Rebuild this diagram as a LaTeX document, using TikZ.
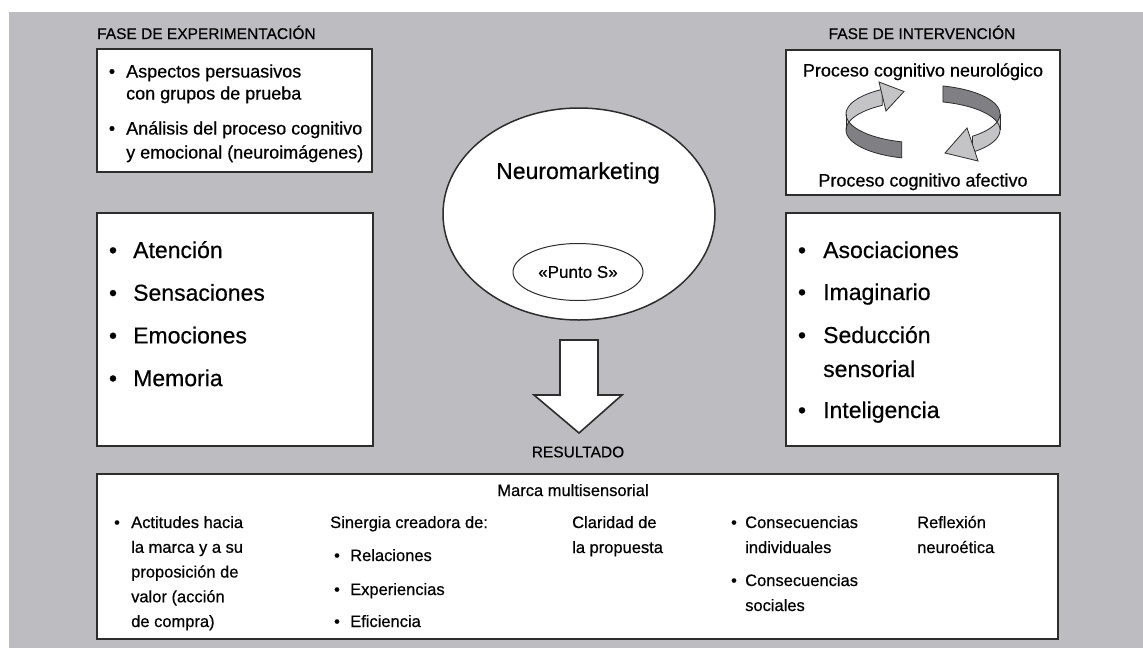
\documentclass[tikz,border=0pt]{standalone}
\usepackage{fontspec}
\setmainfont{Liberation Sans}[FakeBold=0.5]
\usetikzlibrary{shapes.geometric}

\definecolor{panelgray}{RGB}{189,189,193}
\definecolor{boxline}{RGB}{45,45,45}
\definecolor{ribbondark}{RGB}{128,128,132}
\definecolor{ribbonlight}{RGB}{196,196,199}

\tikzset{
  panel/.style={draw=boxline, line width=1.4pt, fill=white, inner sep=0pt, outer sep=0pt},
  heavypanel/.style={panel, line width=2pt},
  fase/.style={font=\fontsize{15.5}{18}\selectfont, inner sep=0pt},
  smallitem/.style={font=\fontsize{18}{24}\selectfont, anchor=base west, inner sep=0pt},
  bigitem/.style={font=\fontsize{23}{27}\selectfont, anchor=base west, inner sep=0pt},
  resitem/.style={font=\fontsize{16.5}{21}\selectfont, anchor=base west, inner sep=0pt},
  smallbullet/.style={smallitem, anchor=base},
  bigbullet/.style={bigitem, anchor=base},
  resbullet/.style={resitem, anchor=base},
  ribbonline/.style={draw=boxline, line width=0.8pt},
}

\begin{document}
\begin{tikzpicture}[x=1pt, y=-1pt]
\useasboundingbox (0,0) rectangle (1143,648);
\fill[panelgray] (9,12) rectangle (1143,648);

% fase de experimentacion
\node[fase, anchor=base west] (faseexp) at (97,39) {FASE DE EXPERIMENTACIÓN};
\node[panel, minimum width=275, minimum height=123] (expbox) at (234.5,110.5) {};
\foreach \txt/\yy [count=\i] in {Aspectos persuasivos/77.5, con grupos de prueba/99.5,
    Análisis del proceso cognitivo/134.5, y emocional (neuroimágenes)/158.5}
  \node[smallitem] (exp-\i) at (126,\yy) {\txt};
\node[smallbullet] (expdot-1) at (112,77.5) {\textbullet};
\node[smallbullet] (expdot-2) at (112,134.5) {\textbullet};

\node[heavypanel, minimum width=276, minimum height=233] (sensbox) at (235,329.5) {};
\foreach \txt [count=\i] in {Atención, Sensaciones, Emociones, Memoria} {
  \node[bigitem] (sens-\i) at (133,{258+42.7*(\i-1)}) {\txt};
  \node[bigbullet] (sensdot-\i) at (113,{258+42.7*(\i-1)}) {\textbullet};
}

% fase de intervencion
\node[fase, anchor=base] (faseint) at (922,39) {FASE DE INTERVENCIÓN};
\node[panel, minimum width=274, minimum height=145] (intbox) at (923,122.5) {};
\node[smallitem, anchor=base] (neurol) at (923,76.5) {Proceso cognitivo neurológico};
\node[smallitem, anchor=base] (afect) at (923,186.5) {Proceso cognitivo afectivo};

% flechas circulares
\fill[ribbondark] plot[domain=106:180, samples=25] ({923+77*cos(\x)},{114+29*sin(\x)})
  -- plot[domain=180:106, samples=25] ({923+77*cos(\x)},{130+29*sin(\x)}) -- cycle;
\fill[ribbonlight] plot[domain=180:238, samples=20] ({923+77*cos(\x)},{114+29*sin(\x)})
  -- plot[domain=238:180, samples=20] ({923+77*cos(\x)},{130+29*sin(\x)}) -- cycle;
\draw[ribbonline] plot[domain=106:238, samples=40] ({923+77*cos(\x)},{114+29*sin(\x)})
  -- plot[domain=238:106, samples=40] ({923+77*cos(\x)},{130+29*sin(\x)}) -- cycle;
\draw[ribbonline] (846,114) -- (846,130);
\filldraw[ribbonline, fill=ribbonlight] (879,82) -- (904,91.5) -- (886,111) -- cycle;

\fill[ribbondark] plot[domain=285:360, samples=25] ({923+77*cos(\x)},{114+29*sin(\x)})
  -- plot[domain=360:285, samples=25] ({923+77*cos(\x)},{130+29*sin(\x)}) -- cycle;
\fill[ribbonlight] plot[domain=360:410, samples=20] ({923+77*cos(\x)},{114+29*sin(\x)})
  -- plot[domain=410:360, samples=20] ({923+77*cos(\x)},{130+29*sin(\x)}) -- cycle;
\draw[ribbonline] plot[domain=285:410, samples=40] ({923+77*cos(\x)},{114+29*sin(\x)})
  -- plot[domain=410:285, samples=40] ({923+77*cos(\x)},{130+29*sin(\x)}) -- cycle;
\draw[ribbonline] (1000,114) -- (1000,130);
\filldraw[ribbonline, fill=ribbonlight] (967,128) -- (945,153) -- (978,161) -- cycle;

\node[heavypanel, minimum width=274, minimum height=233] (asocbox) at (923,329.5) {};
\foreach \txt/\yy [count=\i] in {Asociaciones/258, Imaginario/300, Seducción/343, Inteligencia/418}
  \node[bigbullet] (asocdot-\i) at (802,\yy) {\textbullet};
\foreach \txt/\yy [count=\i] in {Asociaciones/258, Imaginario/300, Seducción/343,
    sensorial/377, Inteligencia/418}
  \node[bigitem] (asoc-\i) at (823,\yy) {\txt};

% neuromarketing
\node[ellipse, draw=boxline, line width=1.5pt, fill=white, minimum width=272,
  minimum height=212] (neuro) at (579,214) {};
\node[font=\fontsize{23}{27}\selectfont] (neurotxt) at (578,173) {Neuromarketing};
\node[ellipse, draw=boxline, line width=1pt, minimum width=130, minimum height=57,
  inner sep=0pt, font=\fontsize{17}{20}\selectfont] (puntos) at (578,272) {«Punto S»};

\draw[boxline, line width=1.6pt, fill=white] (560,340) -- (598,340) -- (598,395)
  -- (622,395) -- (579,433) -- (534,395) -- (560,395) -- cycle;
\node[fase] (resultado) at (578,452) {RESULTADO};

% resultado
\node[heavypanel, minimum width=961, minimum height=165] (resbox) at (577.5,556.5) {};
\node[resitem, anchor=base] (marca) at (573,496) {Marca multisensorial};

\node[resbullet] (actidot) at (117,528) {\textbullet};
\foreach \txt [count=\i] in {Actitudes hacia, la marca y a su, proposición de,
    valor (acción, de compra)}
  \node[resitem] (acti-\i) at (131,{528+24.75*(\i-1)}) {\txt};

\node[resitem] (siner) at (330,528) {Sinergia creadora de:};
\foreach \txt/\yy [count=\i] in {Relaciones/561, Experiencias/595, Eficiencia/627} {
  \node[resitem] (siner-\i) at (350,\yy) {\txt};
  \node[resbullet] (sinerdot-\i) at (337,\yy) {\textbullet};
}

\node[resitem] (clar-1) at (572,528) {Claridad de};
\node[resitem] (clar-2) at (572,553) {la propuesta};

\node[resbullet] (consdot-1) at (734,528) {\textbullet};
\node[resbullet] (consdot-2) at (734,586) {\textbullet};
\foreach \txt/\yy [count=\i] in {Consecuencias/528, individuales/553, Consecuencias/586, sociales/611}
  \node[resitem] (cons-\i) at (745,\yy) {\txt};

\node[resitem] (refl-1) at (917,528) {Reflexión};
\node[resitem] (refl-2) at (917,553) {neuroética};
\end{tikzpicture}
\end{document}
